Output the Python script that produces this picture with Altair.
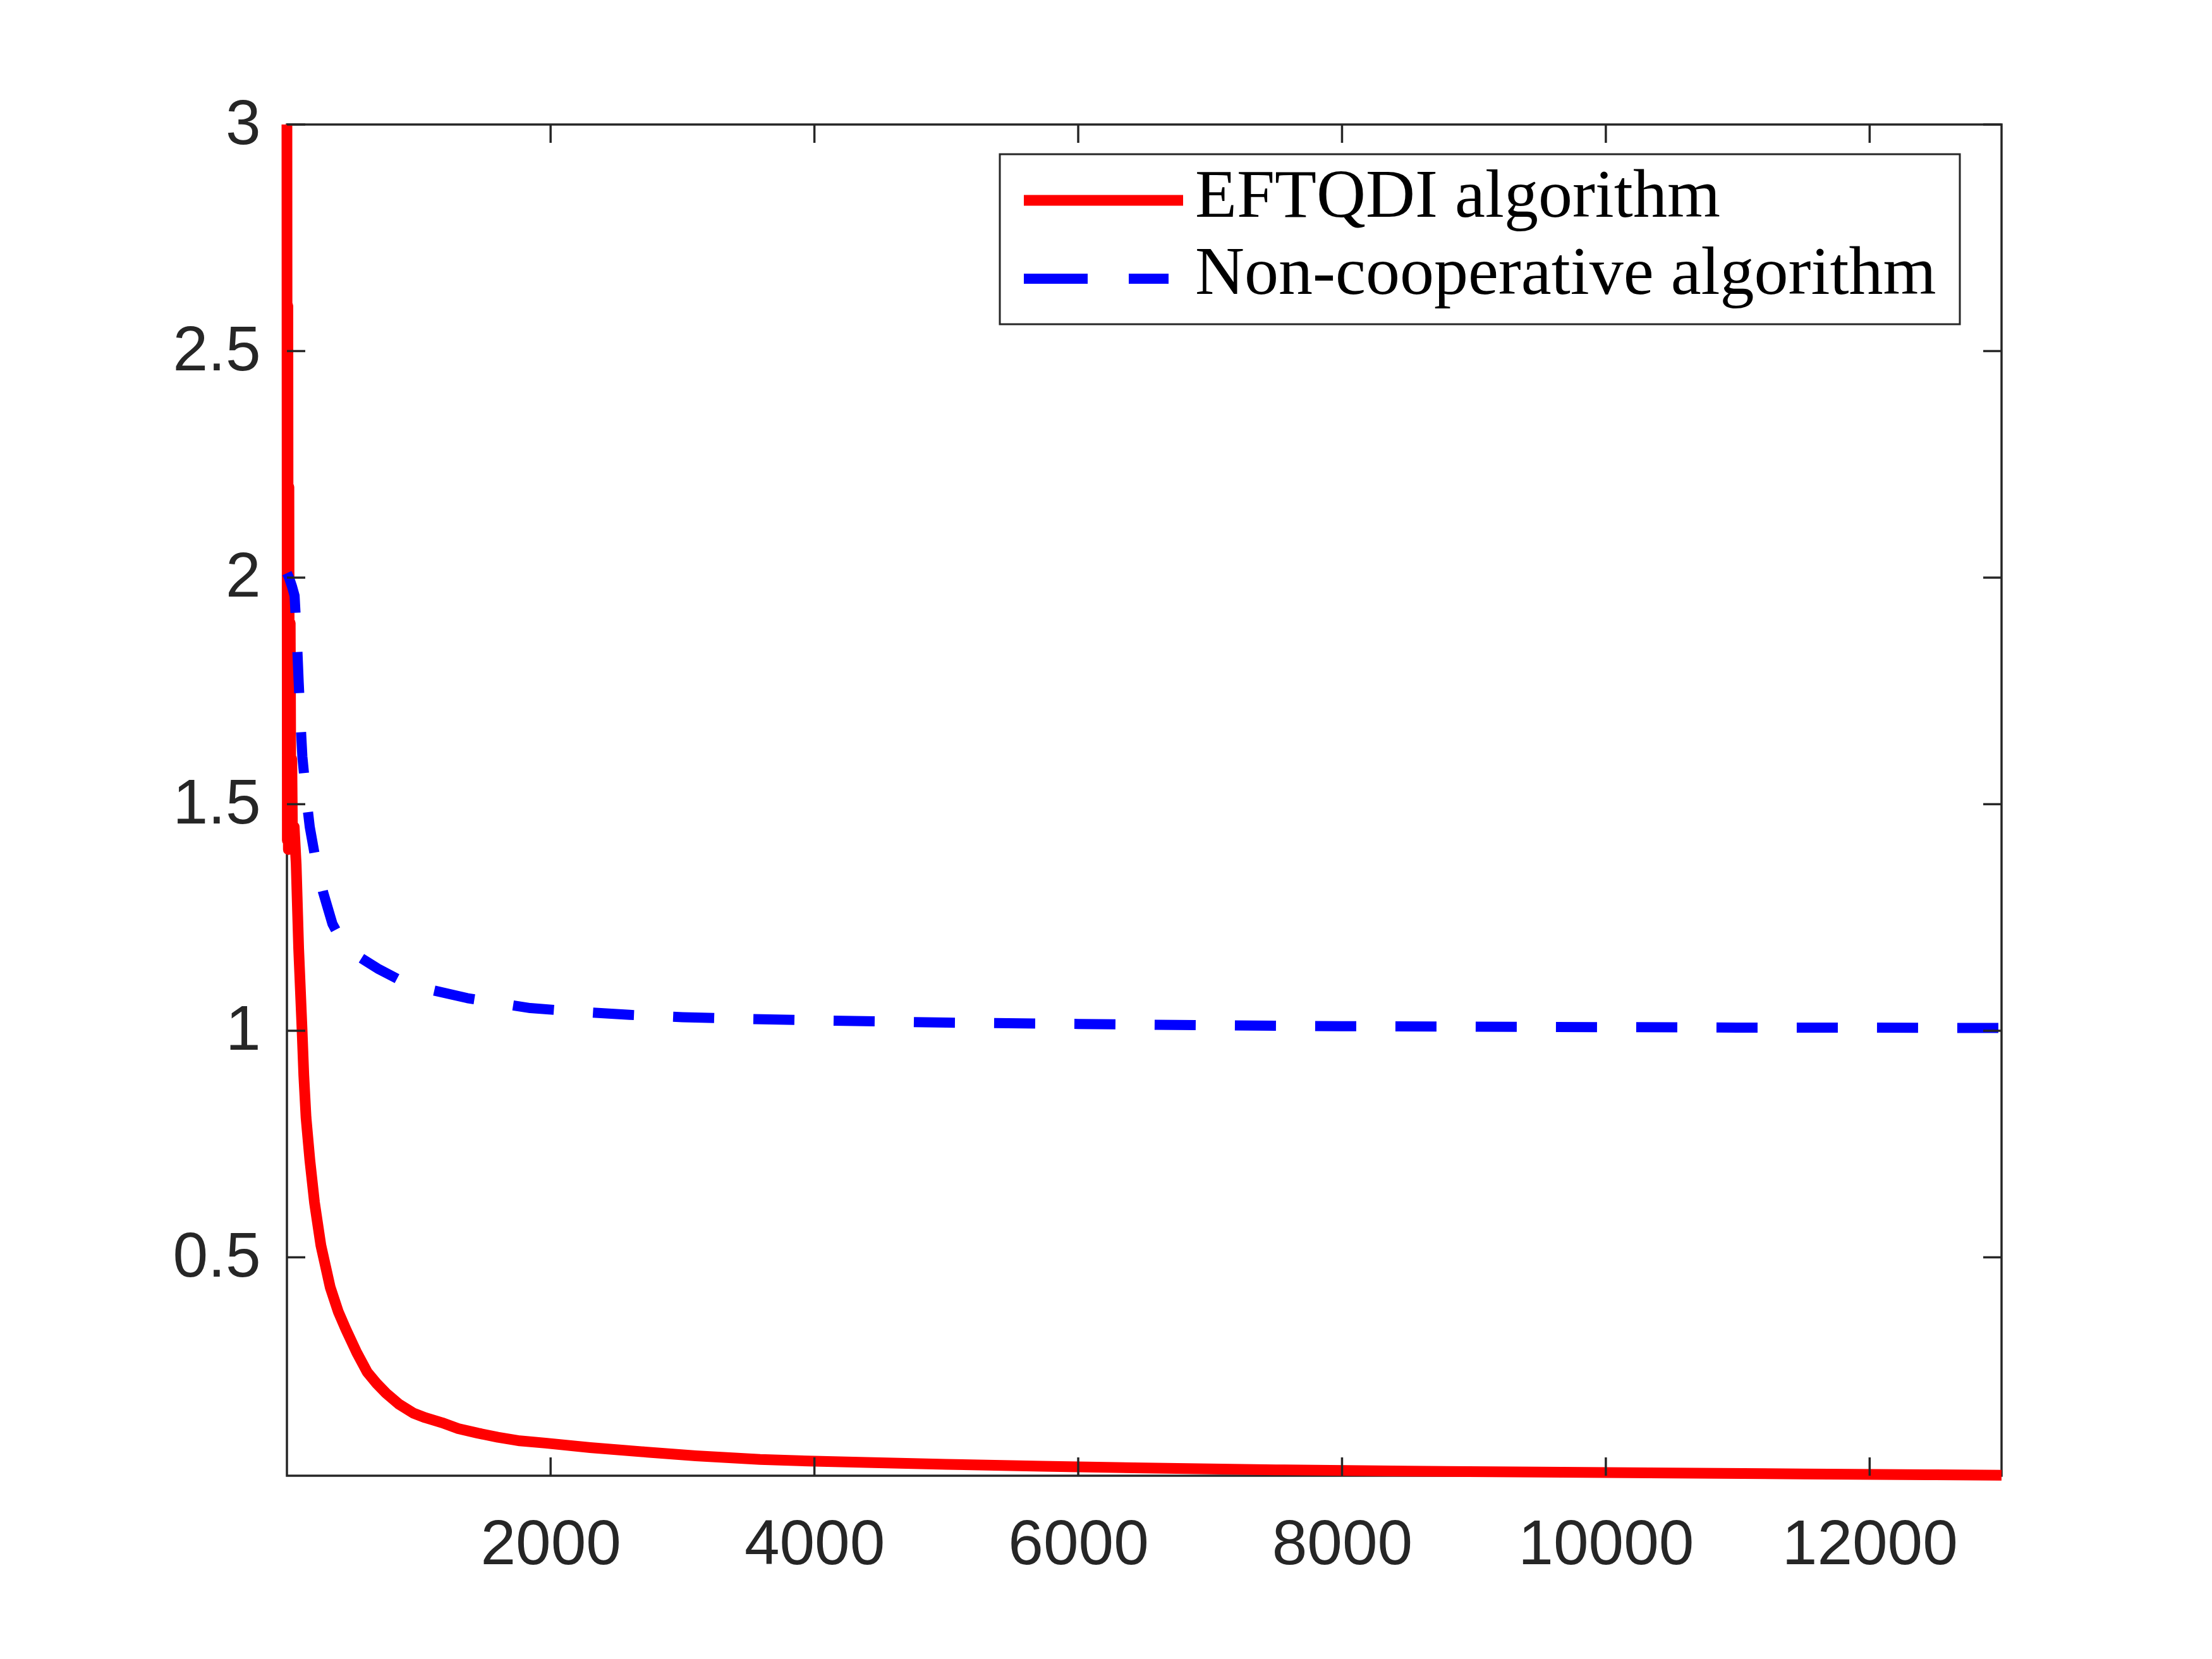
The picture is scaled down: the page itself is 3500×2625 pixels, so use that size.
import altair as alt
import pandas as pd

# ---- data ----
eft_x = [1, 4, 8, 12, 16, 20, 26, 32, 38, 44, 56, 71, 90, 116, 129, 146, 175, 210, 258,
         329, 390, 448, 530, 609, 680, 753, 850, 960, 1050, 1176, 1300, 1448, 1600,
         1766, 1961, 2300, 2733, 3100, 3588, 4000, 4443, 5000, 5726, 6500, 7500, 8500,
         9500, 10500, 11500, 12500, 13000]
eft_y = [3.0, 1.42, 2.60, 1.40, 2.20, 1.42, 1.90, 1.42, 1.60, 1.40, 1.45, 1.368, 1.181,
         1.00, 0.901, 0.808, 0.714, 0.621, 0.527, 0.434, 0.380, 0.341, 0.290, 0.247, 0.222,
         0.200, 0.176, 0.156, 0.146, 0.135, 0.122, 0.112, 0.103, 0.095, 0.090, 0.080,
         0.070, 0.062, 0.054, 0.050, 0.047, 0.043, 0.039, 0.035, 0.031, 0.028, 0.026,
         0.024, 0.022, 0.020, 0.019]

non_x = [1, 17, 40, 59, 78, 90, 108, 118, 146, 174, 218, 274, 346, 425, 538, 697, 889,
         1112, 1368, 1607, 1846, 2166, 2600, 3000, 3500, 4000, 5000, 6000, 7000, 8000,
         9000, 10000, 11000, 12000, 13000]
non_y = [2.01, 2.00, 1.98, 1.96, 1.855, 1.77, 1.66, 1.605, 1.52, 1.45, 1.378, 1.307, 1.236,
         1.193, 1.165, 1.136, 1.107, 1.089, 1.072, 1.061, 1.050, 1.043, 1.035, 1.030, 1.026,
         1.023, 1.018, 1.015, 1.012, 1.010, 1.009, 1.008, 1.007, 1.007, 1.006]

x_ticks = [2000, 4000, 6000, 8000, 10000, 12000]
y_ticks = [0.5, 1, 1.5, 2, 2.5, 3]
series_names = ["EFTQDI algorithm", "Non-cooperative algorithm"]
series_colors = ["#ff0000", "#0000ff"]

# ---- layout ----
W, H = 2713, 2138
AX = "#262626"
TL = 29

xs = alt.Scale(domain=[1, 13000], nice=False, zero=False)
ys = alt.Scale(domain=[0.018, 3], nice=False, zero=False)

xaxis = alt.Axis(values=x_ticks, format="d", title=None, ticks=False,
                 domain=False, grid=False, labelFont="Liberation Sans", labelFontSize=100,
                 labelColor=AX, labelPadding=60, labelLimit=1000)
yaxis = alt.Axis(values=y_ticks, format="~g", title=None, ticks=False,
                 domain=False, grid=False, labelFont="Liberation Sans", labelFontSize=100,
                 labelColor=AX, labelPadding=42, labelLimit=1000)

df_eft = pd.DataFrame({"x": eft_x, "y": eft_y, "i": range(len(eft_x))})
df_non = pd.DataFrame({"x": non_x, "y": non_y, "i": range(len(non_x))})

red = alt.Chart(df_eft).mark_line(
    color=series_colors[0], strokeWidth=17, clip=False, strokeJoin="round", strokeCap="butt"
).encode(
    x=alt.X("x:Q", scale=xs, axis=xaxis),
    y=alt.Y("y:Q", scale=ys, axis=yaxis),
    order="i:Q",
)

blue = alt.Chart(df_non).mark_line(
    color=series_colors[1], strokeWidth=16, clip=False, strokeDash=[65, 62],
    strokeJoin="round", strokeCap="butt"
).encode(
    x=alt.X("x:Q", scale=xs, axis=xaxis),
    y=alt.Y("y:Q", scale=ys, axis=yaxis),
    order="i:Q",
)

dfx = pd.DataFrame({"x": x_ticks})
dfy = pd.DataFrame({"y": y_ticks})
tick_style = dict(color=AX, thickness=3.5, size=TL, opacity=1)

bottom_ticks = alt.Chart(dfx).mark_tick(orient="vertical", **tick_style).encode(
    x=alt.X("x:Q", scale=xs, axis=xaxis), y=alt.value(H - TL / 2))
top_ticks = alt.Chart(dfx).mark_tick(orient="vertical", **tick_style).encode(
    x=alt.X("x:Q", scale=xs, axis=xaxis), y=alt.value(TL / 2))
left_ticks = alt.Chart(dfy).mark_tick(orient="horizontal", **tick_style).encode(
    y=alt.Y("y:Q", scale=ys, axis=yaxis), x=alt.value(TL / 2))
right_ticks = alt.Chart(dfy).mark_tick(orient="horizontal", **tick_style).encode(
    y=alt.Y("y:Q", scale=ys, axis=yaxis), x=alt.value(W - TL / 2))

# ---- legend ----
leg = pd.DataFrame({"name": series_names, "color": series_colors})
box = alt.Chart(leg.iloc[[0]]).mark_rect(fill="white", stroke=AX, strokeWidth=3).encode(
    x=alt.value(1128), x2=alt.value(2647), y=alt.value(47), y2=alt.value(316))

txt_style = dict(align="left", baseline="alphabetic", font="Liberation Serif",
                 fontSize=108, color="black")
t1 = alt.Chart(leg.iloc[[0]]).mark_text(**txt_style).encode(
    x=alt.value(1437), y=alt.value(146), text="name:N")
t2 = alt.Chart(leg.iloc[[1]]).mark_text(**txt_style).encode(
    x=alt.value(1437), y=alt.value(268), text="name:N")
s1 = alt.Chart(leg.iloc[[0]]).mark_rule(color=series_colors[0], strokeWidth=17,
                                       strokeCap="butt").encode(
    x=alt.value(1166), x2=alt.value(1418), y=alt.value(120))
s2 = alt.Chart(leg.iloc[[1]]).mark_rule(color=series_colors[1], strokeWidth=16,
                                       strokeCap="butt", strokeDash=[101, 65]).encode(
    x=alt.value(1166), x2=alt.value(1395), y=alt.value(244))

chart = alt.layer(
    red, blue, bottom_ticks, top_ticks, left_ticks, right_ticks, box, t1, t2, s1, s2
).properties(
    width=W, height=H,
    autosize=alt.AutoSizeParams(type="none"),
    padding={"left": 446, "top": 189, "right": 300, "bottom": 250},
    background="white",
).configure_view(stroke=AX, strokeWidth=3.5)

chart.save("out.html", embed_options={"renderer": "svg", "actions": False})
